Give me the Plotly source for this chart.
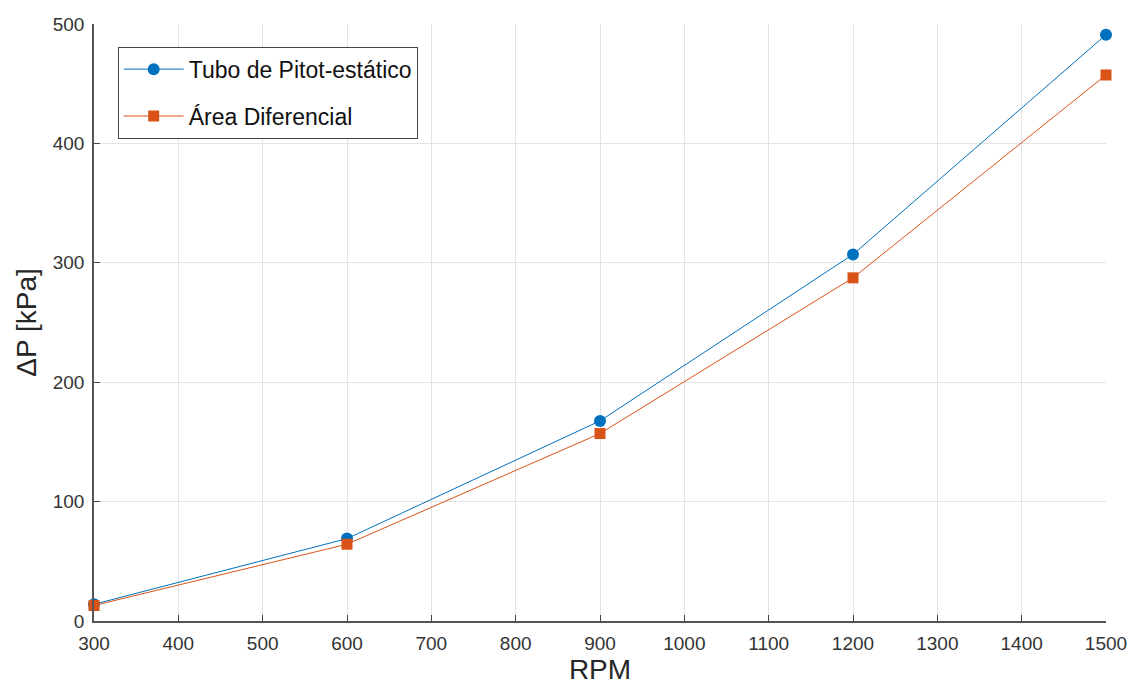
import plotly.graph_objects as go

rpm = [300, 600, 900, 1200, 1500]
pitot_kpa = [14, 69, 167.6, 307, 491]
area_dif_kpa = [13, 64.3, 157, 287.4, 457.3]

series_names = ["Tubo de Pitot-estático", "Área Diferencial"]
x_ticks = list(range(300, 1501, 100))
y_ticks = [0, 100, 200, 300, 400, 500]

blue = "#0072BD"
orange = "#D95319"
font_family = "Liberation Sans, Arial, sans-serif"

fig = go.Figure()
fig.add_trace(go.Scatter(
    x=rpm, y=pitot_kpa, name=series_names[0], mode="lines+markers",
    line=dict(color=blue, width=1),
    marker=dict(symbol="circle", size=12, color=blue),
    legendgroup="a", cliponaxis=False,
))
fig.add_trace(go.Scatter(
    x=rpm, y=area_dif_kpa, name=series_names[1], mode="lines+markers",
    line=dict(color=orange, width=1),
    marker=dict(symbol="square", size=11, color=orange),
    legendgroup="b", cliponaxis=False,
))

axis_common = dict(
    showgrid=True, gridcolor="#e3e3e3", gridwidth=1,
    showline=True, linecolor="#555555", linewidth=1.5,
    ticks="inside", ticklen=6, tickcolor="#444444", tickwidth=1,
    tickfont=dict(family=font_family, size=19, color="#333333"),
    zeroline=False, mirror=False, automargin=False,
)

fig.update_layout(
    width=1130, height=686,
    margin=dict(l=94, r=24, t=24, b=65),
    paper_bgcolor="white", plot_bgcolor="white",
    xaxis=dict(range=[300, 1500], tickvals=x_ticks, ticklabelstandoff=4,
               title=dict(text="RPM", font=dict(family=font_family, size=28, color="#262626"),
                          standoff=6),
               **axis_common),
    yaxis=dict(range=[0, 500], tickvals=y_ticks, ticklabelstandoff=4,
               title=dict(text="ΔP [kPa]", font=dict(family=font_family, size=28, color="#262626"),
                          standoff=8),
               **axis_common),
    legend=dict(
        x=0.0234, y=0.962, xanchor="left", yanchor="top",
        bgcolor="white", bordercolor="#444444", borderwidth=1,
        font=dict(family=font_family, size=23, color="#111111"),
        tracegroupgap=14, itemwidth=60,
    ),
    showlegend=True,
)

fig.write_html("out.html")
